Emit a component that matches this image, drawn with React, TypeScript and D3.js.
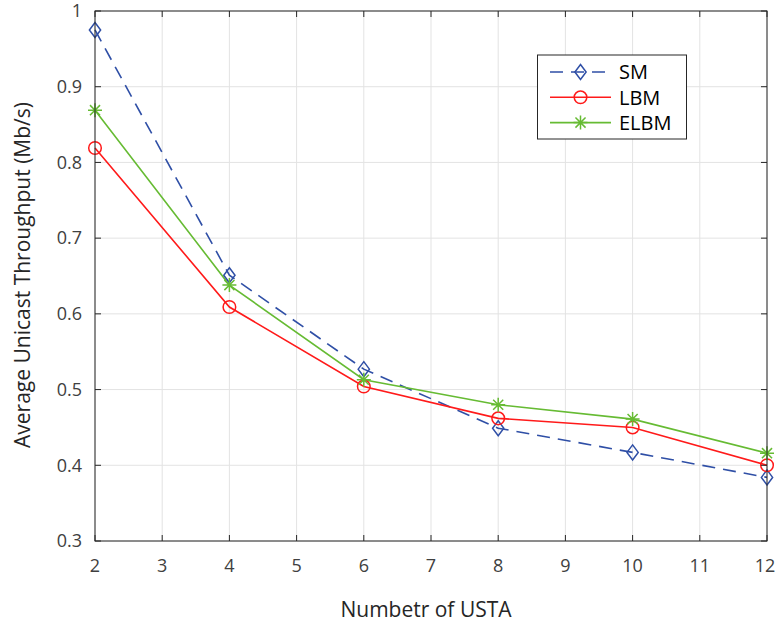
import React from "react";
import * as d3 from "d3";

const xValues = [2, 4, 6, 8, 10, 12];
const smValues = [0.975, 0.651, 0.527, 0.449, 0.417, 0.384];
const lbmValues = [0.819, 0.609, 0.504, 0.462, 0.45, 0.4];
const elbmValues = [0.869, 0.638, 0.513, 0.48, 0.461, 0.416];
const xTicks = [2, 3, 4, 5, 6, 7, 8, 9, 10, 11, 12];
const yTicks = [0.3, 0.4, 0.5, 0.6, 0.7, 0.8, 0.9, 1];
const seriesNames = ["SM", "LBM", "ELBM"];

const W = 775;
const H = 626;
const L = 95, R = 767, T = 11, B = 541;
const FONT = "'Open Sans', 'Noto Sans', sans-serif";
const BLUE = "#2f4fa6";
const RED = "#ff1a1a";
const GREEN = "#66bb33";

function Diamond({ x, y }: { x: number; y: number }) {
  const s = 7.5;
  return <path d={`M${x},${y - s}L${x + s * 0.75},${y}L${x},${y + s}L${x - s * 0.75},${y}Z`} fill="none" stroke={BLUE} strokeWidth={1.5} />;
}
function Circle({ x, y }: { x: number; y: number }) {
  return <circle cx={x} cy={y} r={6.3} fill="none" stroke={RED} strokeWidth={1.5} />;
}
function Star({ x, y }: { x: number; y: number }) {
  const s = 7;
  const d = s * 0.72;
  return (
    <path
      d={`M${x - s},${y}L${x + s},${y}M${x},${y - s}L${x},${y + s}M${x - d},${y - d}L${x + d},${y + d}M${x - d},${y + d}L${x + d},${y - d}`}
      stroke={GREEN}
      strokeWidth={1.5}
      fill="none"
    />
  );
}

export default function App() {
  const x = d3.scaleLinear().domain([2, 12]).range([L, R]);
  const y = d3.scaleLinear().domain([0.3, 1]).range([B, T]);
  const line = d3
    .line<[number, number]>()
    .x((d) => x(d[0]))
    .y((d) => y(d[1]));
  const pts = (vals: number[]) => xValues.map((v, i) => [v, vals[i]] as [number, number]);

  const axisColor = "#262626";
  const tickColor = "#404040";
  const gridColor = "#e3e3e3";
  const tl = 6;

  return (
    <svg width={W} height={H} style={{ position: "absolute", left: 0, top: 0, background: "#fff" }}>
      <rect x={0} y={0} width={W} height={H} fill="#fff" />
      {xTicks.map((t) => (
        <line key={"gx" + t} x1={x(t)} x2={x(t)} y1={T} y2={B} stroke={gridColor} strokeWidth={1} />
      ))}
      {yTicks.map((t) => (
        <line key={"gy" + t} x1={L} x2={R} y1={y(t)} y2={y(t)} stroke={gridColor} strokeWidth={1} />
      ))}
      <path d={line(pts(smValues)) || ""} fill="none" stroke={BLUE} strokeWidth={1.6} strokeDasharray="13,8" />
      <path d={line(pts(lbmValues)) || ""} fill="none" stroke={RED} strokeWidth={1.6} />
      <path d={line(pts(elbmValues)) || ""} fill="none" stroke={GREEN} strokeWidth={1.6} />
      {xValues.map((v, i) => (
        <Diamond key={"d" + i} x={x(v)} y={y(smValues[i])} />
      ))}
      {xValues.map((v, i) => (
        <Circle key={"c" + i} x={x(v)} y={y(lbmValues[i])} />
      ))}
      {xValues.map((v, i) => (
        <Star key={"s" + i} x={x(v)} y={y(elbmValues[i])} />
      ))}
      <rect x={L} y={T} width={R - L} height={B - T} fill="none" stroke={axisColor} strokeWidth={1} />
      {xTicks.map((t) => (
        <g key={"tx" + t}>
          <line x1={x(t)} x2={x(t)} y1={B} y2={B - tl} stroke={axisColor} />
          <line x1={x(t)} x2={x(t)} y1={T} y2={T + tl} stroke={axisColor} />
          <text x={t === 12 ? x(t) - 2 : x(t)} y={572} textAnchor="middle" fontFamily={FONT} fontSize={18} fill={tickColor}>
            {t}
          </text>
        </g>
      ))}
      {yTicks.map((t) => (
        <g key={"ty" + t}>
          <line x1={L} x2={L + tl} y1={y(t)} y2={y(t)} stroke={axisColor} />
          <line x1={R} x2={R - tl} y1={y(t)} y2={y(t)} stroke={axisColor} />
          <text x={82} y={y(t)} dy="0.35em" textAnchor="end" fontFamily={FONT} fontSize={18} fill={tickColor}>
            {t === 1 ? "1" : t.toFixed(1)}
          </text>
        </g>
      ))}
      <text x={426} y={617} textAnchor="middle" fontFamily={FONT} fontSize={21} fill="#262626">
        Numbetr of USTA
      </text>
      <text
        transform={`translate(29.5,${(T + B) / 2 - 1}) rotate(-90)`}
        textAnchor="middle"
        fontFamily={FONT}
        fontSize={21}
        fill="#262626"
      >
        Average Unicast Throughput (Mb/s)
      </text>
      <rect x={537.5} y={55} width={149} height={84} fill="#fff" stroke={axisColor} strokeWidth={1} />
      {seriesNames.map((name, i) => {
        const ly = 72 + i * 25.3;
        const color = [BLUE, RED, GREEN][i];
        return (
          <g key={name}>
            <line x1={550} x2={611} y1={ly} y2={ly} stroke={color} strokeWidth={1.6} strokeDasharray={i === 0 ? "13,8" : undefined} />
            {i === 0 && <Diamond x={580.5} y={ly} />}
            {i === 1 && <Circle x={580.5} y={ly} />}
            {i === 2 && <Star x={580.5} y={ly} />}
            <text x={619} y={ly} dy="0.36em" fontFamily={FONT} fontSize={20} fill="#000">
              {name}
            </text>
          </g>
        );
      })}
    </svg>
  );
}
